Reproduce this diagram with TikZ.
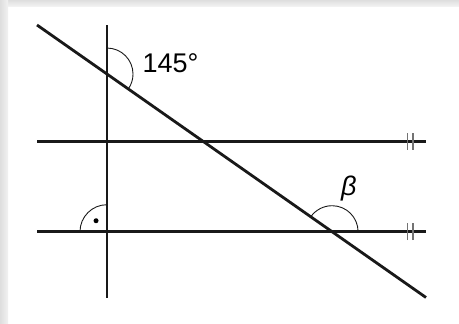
\documentclass[tikz,border=0pt]{standalone}
\usepackage{fontspec}
\setmainfont{Liberation Sans}
\usetikzlibrary{calc}
\definecolor{frame}{RGB}{222,222,222}

\begin{document}
\begin{tikzpicture}[
  x=1pt, y=1pt,
  font=\fontsize{27}{31}\selectfont,
  line/.style={line width=2.8pt, black!90},
  angle/.style={line width=0.9pt, black!90},
  tick/.style={line width=1.3pt, black!55},
  lab/.style={inner sep=0pt, anchor=base west},
]
\useasboundingbox (0,0) rectangle (459,-324);

% ---- frame shadow (top and left)
\shade[top color=frame, bottom color=frame!40] (0,0) rectangle (459,-6);
\shade[left color=frame, right color=frame!40] (0,0) rectangle (8,-324);

% ---- points
\coordinate (dtop) at (37,-25);
\coordinate (dbot) at (426,-297.5);
\coordinate (vtop) at (107,-25);
\coordinate (vbot) at (107,-298);
\coordinate (h1l) at (37,-141.3);
\coordinate (h1r) at (426,-141.3);
\coordinate (h2l) at (37,-231.7);
\coordinate (h2r) at (426,-231.7);
\coordinate (A) at (intersection of dtop--dbot and vtop--vbot);
\coordinate (B) at (intersection of dtop--dbot and h2l--h2r);
\coordinate (C) at (intersection of vtop--vbot and h2l--h2r);

% ---- lines
\draw[line] (dtop) -- (dbot);
\draw[line] (vtop) -- (vbot);
\draw[line] (h1l) -- (h1r);
\draw[line] (h2l) -- (h2r);

% ---- parallel marks
\foreach \y in {-141.3,-231.7}{
  \draw[tick] (407.5,\y-8.5) -- (407.5,\y+8.5);
  \draw[tick] (413,\y-8.5) -- (413,\y+8.5);
}

% ---- angles
\draw[angle] ($(A)+(90:26)$) arc[start angle=90, end angle=-35, radius=26];
\draw[angle] ($(B)+(0:26)$) arc[start angle=0, end angle=145, radius=26];
\draw[angle] ($(C)+(90:27)$) arc[start angle=90, end angle=180, radius=27];
\fill ($(C)+(135:15.5)$) circle[radius=2.5];

% ---- labels
\node[lab] (l145) at (142.5,-73) {145°};
\node[lab] (lbeta) at (341,-195) {\itshape β};

\end{tikzpicture}
\end{document}
